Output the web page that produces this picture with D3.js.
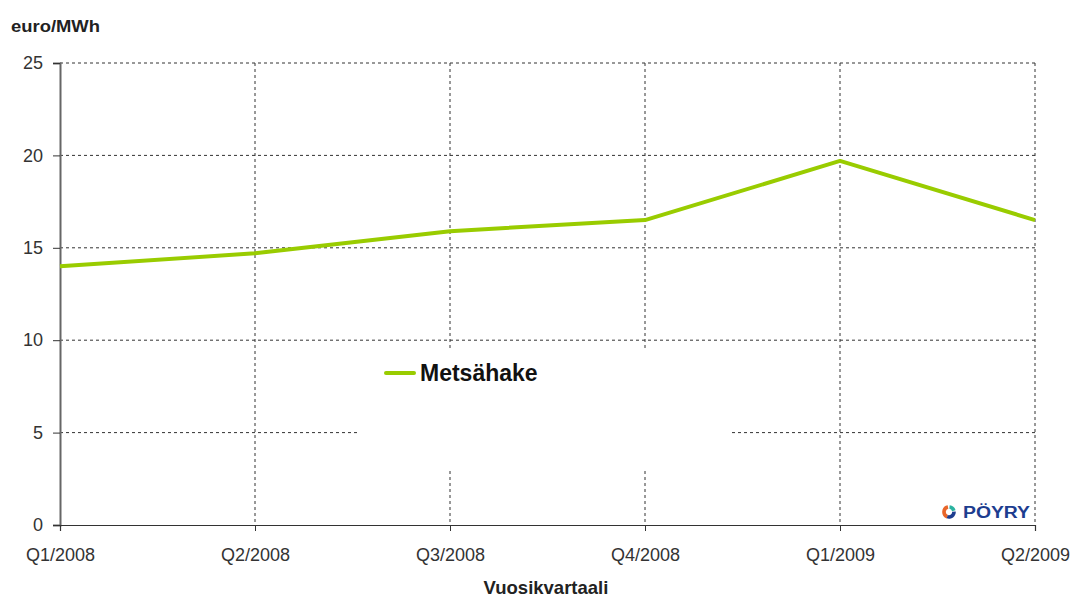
<!DOCTYPE html>
<html>
<head>
<meta charset="utf-8">
<script src="https://cdn.jsdelivr.net/npm/d3@7"></script>
<style>
  html, body { margin: 0; padding: 0; background: #fff; }
  svg { display: block; font-family: "Liberation Sans", Arial, sans-serif; }
</style>
</head>
<body>
<svg id="chart" width="1073" height="597"></svg>
<script>
// Quarterly price of forest chips (euro/MWh)
const quarters = ["Q1/2008", "Q2/2008", "Q3/2008", "Q4/2008", "Q1/2009", "Q2/2009"];
const metsahake = [14.0, 14.7, 15.9, 16.5, 19.7, 16.5];
const yTicks = [0, 5, 10, 15, 20, 25];
const seriesName = "Metsähake";
const yTitle = "euro/MWh";
const xTitle = "Vuosikvartaali";

const svg = d3.select("#chart");
const margin = { left: 60, right: 38, top: 63, bottom: 72 };
const W = 1073, H = 597;
const x0 = margin.left, x1 = W - margin.right;
const y0 = H - margin.bottom, y1 = margin.top;

const x = d3.scalePoint().domain(quarters).range([x0, x1]);
const y = d3.scaleLinear().domain([0, 25]).range([y0, y1]);

const gridColor = "#333";
const fontFam = "'Liberation Sans', Arial, sans-serif";

// horizontal gridlines
svg.append("g")
  .selectAll("line")
  .data(yTicks.filter(d => d > 0))
  .join("line")
  .attr("x1", x0).attr("x2", x1)
  .attr("y1", d => y(d)).attr("y2", d => y(d))
  .attr("stroke", gridColor)
  .attr("stroke-width", 1)
  .attr("stroke-dasharray", "3,3");

// vertical gridlines
svg.append("g")
  .selectAll("line")
  .data(quarters.slice(1))
  .join("line")
  .attr("x1", d => x(d)).attr("x2", d => x(d))
  .attr("y1", y1).attr("y2", y0)
  .attr("stroke", gridColor)
  .attr("stroke-width", 1)
  .attr("stroke-dasharray", "3,3");

// legend background masks the gridlines behind it
const legend = svg.append("g");
legend.append("rect")
  .attr("x", 359).attr("y", 348)
  .attr("width", 371).attr("height", 120)
  .attr("fill", "#fff");

// y axis
const yAxis = svg.append("g")
  .attr("transform", `translate(${x0},0)`)
  .call(d3.axisLeft(y).tickValues(yTicks).tickSize(7).tickPadding(10).tickFormat(d3.format("d")));
yAxis.select(".domain").attr("stroke", "#666").attr("stroke-width", 2);
yAxis.selectAll(".tick line").attr("stroke", "#333");
yAxis.selectAll("text").attr("font-size", 18).attr("fill", "#333")
  .attr("font-family", fontFam);

// x axis
const xAxis = svg.append("g")
  .attr("transform", `translate(0,${y0})`)
  .call(d3.axisBottom(x).tickSize(6).tickPadding(17));
xAxis.select(".domain").attr("stroke", "#333").attr("stroke-width", 1.2);
xAxis.selectAll(".tick line").attr("stroke", "#333");
xAxis.selectAll("text").attr("font-size", 18).attr("fill", "#333")
  .attr("font-family", fontFam);

// series line
const line = d3.line()
  .x((d, i) => x(quarters[i]))
  .y(d => y(d));
svg.append("path")
  .datum(metsahake)
  .attr("d", line)
  .attr("fill", "none")
  .attr("stroke", "#99cc00")
  .attr("stroke-width", 4)
  .attr("stroke-linejoin", "round");

// legend entry
legend.append("line")
  .attr("x1", 386).attr("x2", 414)
  .attr("y1", 373).attr("y2", 373)
  .attr("stroke", "#99cc00").attr("stroke-width", 4)
  .attr("stroke-linecap", "round");
legend.append("text")
  .attr("x", 420).attr("y", 381)
  .attr("font-size", 23).attr("font-weight", "bold").attr("fill", "#111")
  .text(seriesName);

// axis titles
svg.append("text")
  .attr("x", 11).attr("y", 32)
  .attr("font-size", 17).attr("font-weight", "bold").attr("fill", "#222")
  .attr("textLength", 89).attr("lengthAdjust", "spacingAndGlyphs")
  .text(yTitle);
svg.append("text")
  .attr("x", 546).attr("y", 594)
  .attr("text-anchor", "middle")
  .attr("font-size", 18.5).attr("font-weight", "bold").attr("fill", "#222")
  .text(xTitle);

// company mark
const logo = svg.append("g").attr("transform", "translate(949,512)");
const arc = d3.arc().innerRadius(3.2).outerRadius(6.8);
logo.append("path").attr("d", arc({ startAngle: -2.8, endAngle: -0.2 })).attr("fill", "#e8662a");
logo.append("path").attr("d", arc({ startAngle: 0.1, endAngle: 1.3 })).attr("fill", "#2bb3a0");
logo.append("path").attr("d", arc({ startAngle: 1.5, endAngle: 3.5 })).attr("fill", "#1d3d8f");
logo.append("text")
  .attr("x", 14).attr("y", 6)
  .attr("font-size", 16).attr("font-weight", "bold").attr("fill", "#1d3d8f")
  .attr("textLength", 67).attr("lengthAdjust", "spacingAndGlyphs")
  .text("PÖYRY");
</script>
</body>
</html>
